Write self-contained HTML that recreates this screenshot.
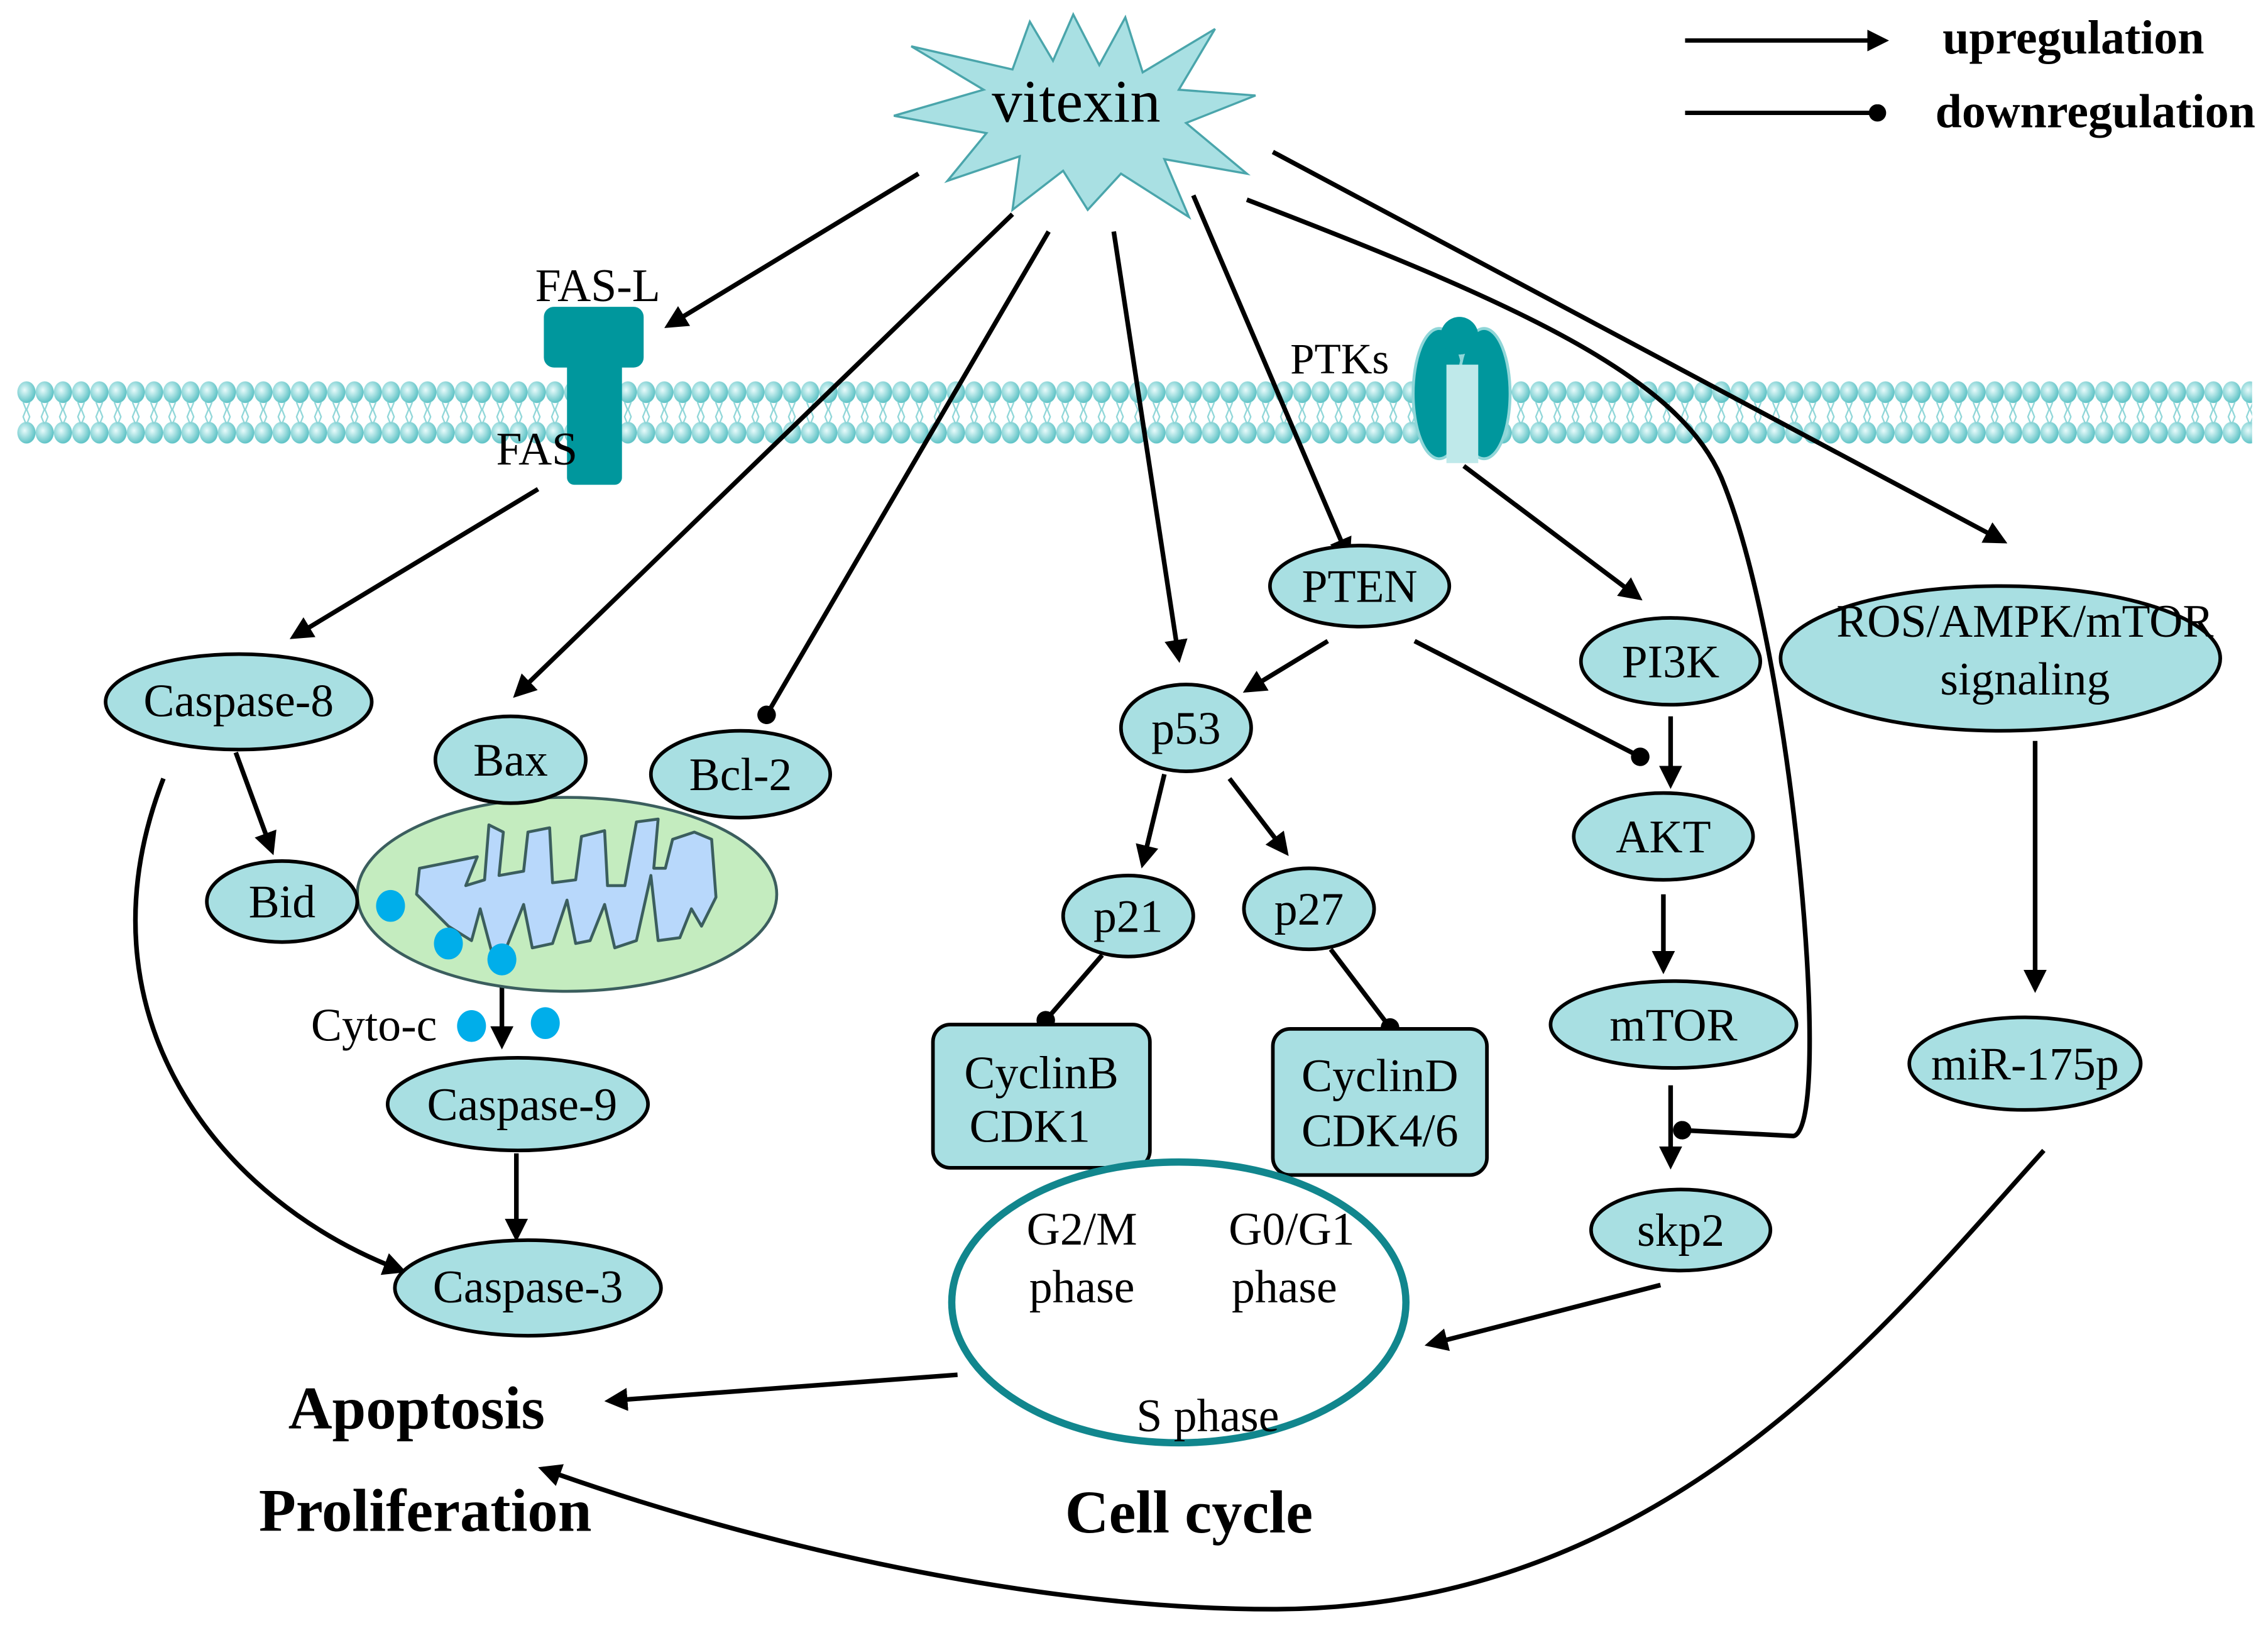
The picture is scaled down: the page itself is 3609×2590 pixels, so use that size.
<!DOCTYPE html>
<html><head><meta charset="utf-8"><style>
html,body{margin:0;padding:0;background:#fff}
svg{display:block}
text{font-family:"Liberation Serif",serif;fill:#000}
</style></head><body>
<svg width="3609" height="2590" viewBox="0 0 1568 1125" preserveAspectRatio="none" xmlns="http://www.w3.org/2000/svg">
<defs>
<marker id="ah" viewBox="0 0 10 10" refX="8" refY="5" markerWidth="5" markerHeight="5" orient="auto"><path d="M0,0 L10,5 L0,10 z" fill="#000"/></marker>
<marker id="dt" viewBox="0 0 10 10" refX="5" refY="5" markerWidth="4" markerHeight="4" orient="auto"><circle cx="5" cy="5" r="5" fill="#000"/></marker>
<radialGradient id="hg" cx="0.4" cy="0.4" r="0.6"><stop offset="0" stop-color="#e8fbfb"/><stop offset="1" stop-color="#5fc3c6"/></radialGradient>
<pattern id="mem" x="12" y="262" width="12.6" height="46" patternUnits="userSpaceOnUse">
<ellipse cx="6.3" cy="9" rx="6.3" ry="7.5" fill="url(#hg)"/>
<ellipse cx="6.3" cy="37" rx="6.3" ry="7.5" fill="url(#hg)"/>
<path d="M4,16 l2,5 l-2,5 l2,5 M8.5,16 l-2,5 l2,5 l-2,5" stroke="#8fd6d8" stroke-width="1" fill="none"/>
</pattern>
</defs>
<rect width="1568" height="1125" fill="#fff"/>
<rect x="12" y="262" width="1545" height="46" fill="url(#mem)"/>

<line x1="1165" y1="28" x2="1303" y2="28" stroke="#000" stroke-width="3" marker-end="url(#ah)"/>
<text x="1343" y="37" font-size="33" font-weight="bold">upregulation</text>
<line x1="1165" y1="78" x2="1298" y2="78" stroke="#000" stroke-width="3" marker-end="url(#dt)"/>
<text x="1338" y="88" font-size="33" font-weight="bold">downregulation</text>

<polygon points="742,10 760,45 778,12 790,50 840,20 815,62 868,66 820,85 862,120 805,110 822,150 775,120 752,145 735,118 700,145 705,108 655,125 682,92 618,80 680,62 630,32 700,48 712,15 728,42" fill="#a9e0e3" stroke="#4aa5ab" stroke-width="1.5"/>
<text x="744" y="84" font-size="42" text-anchor="middle">vitexin</text>

<rect x="392" y="245" width="38" height="90" rx="5" fill="#00979d"/>
<rect x="376" y="212" width="69" height="42" rx="7" fill="#00979d"/>
<text x="370" y="208" font-size="32">FAS-L</text>
<text x="343" y="321" font-size="32">FAS</text>

<text x="892" y="258" font-size="30">PTKs</text>
<ellipse cx="995" cy="272" rx="18" ry="45" fill="#00979d" stroke="#8fd6d8" stroke-width="2"/>
<ellipse cx="1026" cy="272" rx="18" ry="45" fill="#00979d" stroke="#8fd6d8" stroke-width="2"/>
<path d="M1000,252 L1022,252 L1022,320 L1000,320 Z" fill="#bfe9ea"/>
<circle cx="1009" cy="232" r="13" fill="#00979d"/>

<g stroke="#000" stroke-width="3.2" fill="none">
<line x1="635" y1="120" x2="462" y2="225" marker-end="url(#ah)"/>
<line x1="372" y1="338" x2="203" y2="440" marker-end="url(#ah)"/>
<line x1="700" y1="148" x2="357" y2="480" marker-end="url(#ah)"/>
<line x1="725" y1="160" x2="530" y2="494" marker-end="url(#dt)"/>
<line x1="770" y1="160" x2="815" y2="455" marker-end="url(#ah)"/>
<line x1="825" y1="135" x2="932" y2="385" marker-end="url(#ah)"/>
<line x1="1012" y1="322" x2="1133" y2="413" marker-end="url(#ah)"/>
<line x1="880" y1="105" x2="1385" y2="374" marker-end="url(#ah)"/>
<path d="M862,138 C1050,210 1160,260 1190,330 C1240,450 1268,780 1240,785 L1163,781" marker-end="url(#dt)"/>
<line x1="163" y1="520" x2="188" y2="588" marker-end="url(#ah)"/>
<path d="M113,538 C50,700 150,830 278,878" marker-end="url(#ah)"/>
<line x1="347" y1="665" x2="347" y2="722" marker-end="url(#ah)"/>
<line x1="357" y1="797" x2="357" y2="855" marker-end="url(#ah)"/>
<line x1="918" y1="443" x2="862" y2="477" marker-end="url(#ah)"/>
<line x1="978" y1="443" x2="1134" y2="523" marker-end="url(#dt)"/>
<line x1="1155" y1="495" x2="1155" y2="542" marker-end="url(#ah)"/>
<line x1="805" y1="535" x2="790" y2="597" marker-end="url(#ah)"/>
<line x1="850" y1="538" x2="889" y2="589" marker-end="url(#ah)"/>
<line x1="762" y1="660" x2="723" y2="705" marker-end="url(#dt)"/>
<line x1="920" y1="656" x2="961" y2="710" marker-end="url(#dt)"/>
<line x1="1150" y1="618" x2="1150" y2="670" marker-end="url(#ah)"/>
<line x1="1155" y1="750" x2="1155" y2="805" marker-end="url(#ah)"/>
<line x1="1148" y1="888" x2="988" y2="929" marker-end="url(#ah)"/>
<line x1="662" y1="950" x2="421" y2="968" marker-end="url(#ah)"/>
<line x1="1407" y1="512" x2="1407" y2="683" marker-end="url(#ah)"/>
<path d="M1413,795 C1300,920 1150,1112 880,1112 C700,1112 500,1060 375,1015" marker-end="url(#ah)"/>
</g>

<ellipse cx="392" cy="618" rx="145" ry="67" fill="#c4ecbf" stroke="#3b5e5e" stroke-width="2"/>
<path d="M290,600 L330,592 L322,612 L335,608 L338,570 L348,575 L345,605 L362,602 L365,575 L380,572 L382,610 L398,608 L402,578 L418,574 L420,612 L432,612 L440,568 L455,566 L452,600 L460,600 L465,580 L480,575 L492,580 L495,620 L485,640 L478,628 L470,648 L455,650 L450,605 L440,650 L425,655 L418,625 L408,650 L398,652 L392,622 L382,652 L368,655 L362,625 L350,655 L340,658 L332,628 L326,650 L310,640 L300,630 L288,618 Z" fill="#b8d8fb" stroke="#3b5e5e" stroke-width="2" stroke-linejoin="round"/>
<g fill="#00aeea">
<ellipse cx="270" cy="626" rx="10" ry="11"/>
<ellipse cx="310" cy="652" rx="10" ry="11"/>
<ellipse cx="347" cy="663" rx="10" ry="11"/>
<ellipse cx="326" cy="709" rx="10" ry="11"/>
<ellipse cx="377" cy="707" rx="10" ry="11"/>
</g>
<text x="215" y="719" font-size="32">Cyto-c</text>

<g fill="#a8dfe2" stroke="#000" stroke-width="2.5">
<ellipse cx="165" cy="485" rx="92" ry="33"/>
<ellipse cx="353" cy="525" rx="52" ry="30"/>
<ellipse cx="512" cy="535" rx="62" ry="30"/>
<ellipse cx="195" cy="623" rx="52" ry="28"/>
<ellipse cx="358" cy="763" rx="90" ry="32"/>
<ellipse cx="365" cy="890" rx="92" ry="33"/>
<ellipse cx="940" cy="405" rx="62" ry="28"/>
<ellipse cx="820" cy="503" rx="45" ry="30"/>
<ellipse cx="780" cy="633" rx="45" ry="28"/>
<ellipse cx="905" cy="628" rx="45" ry="28"/>
<ellipse cx="1155" cy="457" rx="62" ry="30"/>
<ellipse cx="1150" cy="578" rx="62" ry="30"/>
<ellipse cx="1157" cy="708" rx="85" ry="30"/>
<ellipse cx="1162" cy="850" rx="62" ry="28"/>
<ellipse cx="1383" cy="455" rx="152" ry="50"/>
<ellipse cx="1400" cy="735" rx="80" ry="32"/>
<rect x="645" y="708" width="150" height="99" rx="12"/>
<rect x="880" y="711" width="148" height="101" rx="12"/>
</g>
<g font-size="32" text-anchor="middle">
<text x="165" y="495">Caspase-8</text>
<text x="353" y="536">Bax</text>
<text x="512" y="546">Bcl-2</text>
<text x="195" y="634">Bid</text>
<text x="361" y="774">Caspase-9</text>
<text x="365" y="900">Caspase-3</text>
<text x="940" y="416">PTEN</text>
<text x="820" y="514">p53</text>
<text x="780" y="644">p21</text>
<text x="905" y="639">p27</text>
<text x="1155" y="468">PI3K</text>
<text x="1150" y="589">AKT</text>
<text x="1157" y="719">mTOR</text>
<text x="1162" y="861">skp2</text>
<text x="1400" y="440">ROS/AMPK/mTOR</text>
<text x="1400" y="480">signaling</text>
<text x="1400" y="746">miR-175p</text>
<text x="720" y="752">CyclinB</text>
<text x="712" y="789">CDK1</text>
<text x="954" y="754">CyclinD</text>
<text x="954" y="792">CDK4/6</text>
</g>

<ellipse cx="815" cy="900" rx="157" ry="97" fill="#fff" stroke="#11868d" stroke-width="5"/>
<g font-size="32" text-anchor="middle">
<text x="748" y="860">G2/M</text>
<text x="748" y="900">phase</text>
<text x="893" y="860">G0/G1</text>
<text x="888" y="900">phase</text>
<text x="835" y="989">S phase</text>
</g>
<g font-size="42" font-weight="bold" text-anchor="middle">
<text x="288" y="987">Apoptosis</text>
<text x="294" y="1058">Proliferation</text>
<text x="822" y="1059">Cell cycle</text>
</g>
</svg>
</body></html>
